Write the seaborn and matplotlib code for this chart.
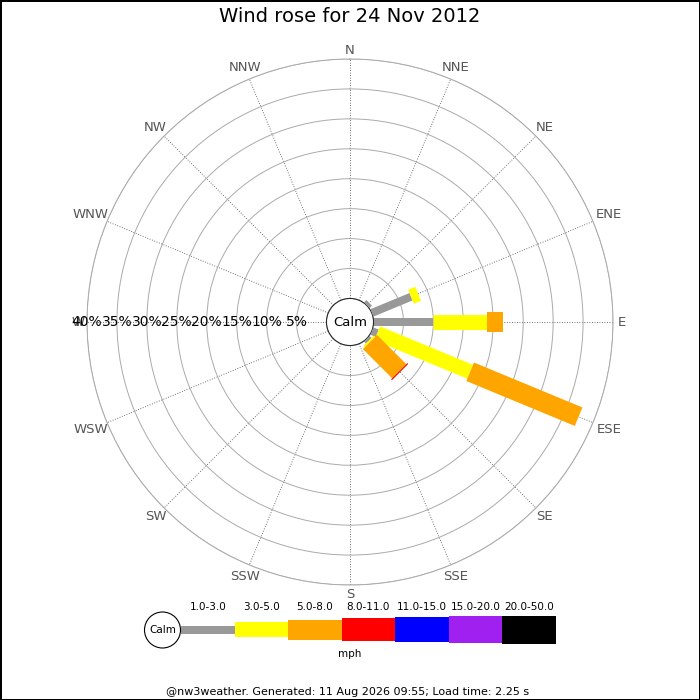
import numpy as np
import pandas as pd
import seaborn as sns
import matplotlib.pyplot as plt
from matplotlib.patches import Circle

# wind data: percent of time per direction for each speed range
directions = ["N", "NNE", "NE", "ENE", "E", "ESE", "SE", "SSE",
              "S", "SSW", "SW", "WSW", "W", "WNW", "NW", "NNW"]
speed_ranges = ["1.0-3.0", "3.0-5.0", "5.0-8.0", "8.0-11.0",
                "11.0-15.0", "15.0-20.0", "20.0-50.0"]
pct_1_3 = [0, 0, 0.6, 7.1, 10.0, 1.0, 0.5, 0, 0, 0, 0, 0, 0, 0, 0, 0]
pct_3_5 = [0, 0, 0, 1.3, 8.9, 16.8, 0.3, 0, 0, 0, 0, 0, 0, 0, 0, 0]
pct_5_8 = [0, 0, 0, 0, 2.8, 19.6, 6.9, 0, 0, 0, 0, 0, 0, 0, 0, 0]
pct_8_11 = [0, 0, 0, 0, 0, 0, 0.2, 0, 0, 0, 0, 0, 0, 0, 0, 0]
pct_11_15 = [0] * 16
pct_15_20 = [0] * 16
pct_20_50 = [0] * 16
ring_pcts = [5, 10, 15, 20, 25, 30, 35, 40]

colors = ["#999999", "#ffff00", "#ffa500", "#ff0000", "#0000ff", "#a020f0", "#000000"]
bar_px = [8, 15, 20, 23, 25, 27, 28]

sns.set_style("white")
plt.rcParams["font.family"] = ["DejaVu Sans"]
plt.rcParams["text.color"] = "black"

series = [pct_1_3, pct_3_5, pct_5_8, pct_8_11, pct_11_15, pct_15_20, pct_20_50]
rows = []
seg = 0
for i, d in enumerate(directions):
    theta = np.deg2rad(i * 22.5)
    r0 = 0.0
    for name, vals in zip(speed_ranges, series):
        v = vals[i]
        if v > 0:
            rows.append({"theta": theta, "r": r0, "seg": seg, "range": name})
            rows.append({"theta": theta, "r": r0 + v, "seg": seg, "range": name})
            seg += 1
        r0 += v
df = pd.DataFrame(rows)

fig = plt.figure(figsize=(7, 7), dpi=100, edgecolor="black", linewidth=2)
R = 263.0
cx, cy = 350.0, 322.0
ax = fig.add_axes([(cx - R) / 700, (700 - cy - R) / 700, 2 * R / 700, 2 * R / 700],
                  projection="polar")
ax.set_theta_zero_location("N")
ax.set_theta_direction(-1)

sns.lineplot(data=df, x="theta", y="r", hue="range", size="range", units="seg",
             estimator=None, sort=False, hue_order=speed_ranges, size_order=speed_ranges,
             palette=dict(zip(speed_ranges, colors)),
             sizes=dict(zip(speed_ranges, [p * 0.72 for p in bar_px])),
             legend=False, ax=ax, solid_capstyle="butt", zorder=3)

rmax = ring_pcts[-1]
origin = 3.93
ax.set_ylim(0, rmax)
ax.set_rorigin(-origin)
px_per = R / (rmax + origin)
ax.set_xlabel("")
ax.set_ylabel("")

ax.set_xticks(np.deg2rad(np.arange(16) * 22.5))
ax.set_xticklabels([])
ax.set_yticks(ring_pcts)
ax.set_yticklabels([])
ax.xaxis.grid(True, color="#444444", linestyle=(0, (1, 2)), linewidth=0.6)
ax.yaxis.grid(True, color="#aaaaaa", linestyle="-", linewidth=0.7)
ax.spines["polar"].set_color("#aaaaaa")
ax.spines["polar"].set_linewidth(0.7)

# compass labels
for i, d in enumerate(directions):
    ang = np.deg2rad(i * 22.5)
    px = 272 + (len(d) - 1) * 4.5 * abs(np.sin(ang))
    ax.text(ang, px / px_per - origin, d, ha="center", va="center",
            fontsize=9.5, color="#555555", clip_on=False)

# percent ring labels along W
for p in ring_pcts:
    ax.text(np.deg2rad(270), p, f"{p}%", ha="center", va="center",
            fontsize=10, color="black", zorder=4)

ax.add_patch(Circle((0.5, 0.5), 23.5 / (2 * R), transform=ax.transAxes,
                    facecolor="white", edgecolor="#999999", linewidth=0.8,
                    zorder=2.5))
ax.text(0.5, 0.5, "Calm", transform=ax.transAxes, ha="center", va="center",
        fontsize=9.5, zorder=4)

# legend and texts in pixel coordinates
leg = fig.add_axes([0, 0, 1, 1])
leg.set_xlim(0, 700)
leg.set_ylim(700, 0)
leg.axis("off")
seg_w = 53.5
x_start = 181
centers = [x_start + seg_w * (k + 0.5) for k in range(len(speed_ranges))]
heights = np.array(bar_px, dtype=float)
leg.bar(centers, heights, width=seg_w, bottom=629.5 - heights / 2, color=colors,
        linewidth=0)
for c, lab in zip(centers, speed_ranges):
    leg.text(c, 607, lab, ha="center", va="center", fontsize=7.5)
leg.add_patch(Circle((162.5, 630), 18, facecolor="white", edgecolor="black", linewidth=0.8))
leg.text(162.5, 630, "Calm", ha="center", va="center", fontsize=7.5)
leg.text(350, 654, "mph", ha="center", va="center", fontsize=7.5)
leg.text(350, 17, "Wind rose for 24 Nov 2012", ha="center", va="center", fontsize=14)
leg.text(348, 692, "@nw3weather. Generated: 11 Aug 2026 09:55; Load time: 2.25 s",
         ha="center", va="center", fontsize=8)

fig.savefig("out.png", dpi=100, facecolor="white", edgecolor="black")
